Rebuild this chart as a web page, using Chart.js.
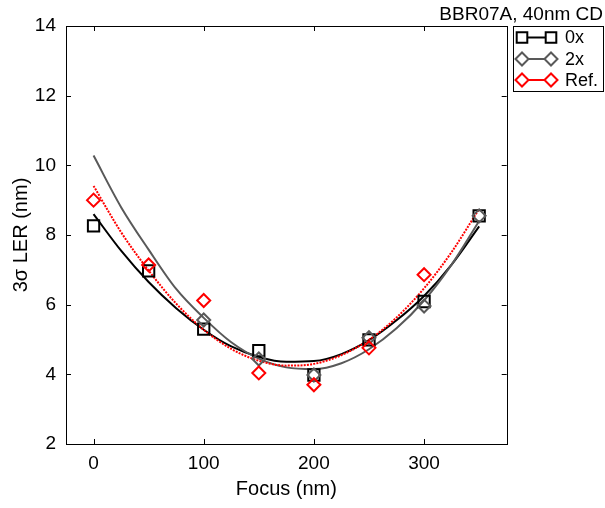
<!DOCTYPE html>
<html>
<head>
<meta charset="utf-8">
<script src="https://cdn.jsdelivr.net/npm/chart.js@4/dist/chart.umd.min.js"></script>
<style>
html,body{margin:0;padding:0;background:#fff;}
canvas{display:block;}
</style>
</head>
<body>
<canvas id="c" width="605" height="508"></canvas>
<script>
// ---- data ----
const focus = [0, 50, 100, 150, 200, 250, 300, 350];
const ler0x = [8.26, 6.97, 5.30, 4.68, 3.98, 4.99, 6.09, 8.55];
const ler2x = [null, null, 5.56, 4.44, 3.98, 5.05, 5.96, 8.55];
const lerRef = [9.00, 7.14, 6.12, 4.04, 3.70, 4.76, 6.86, null];

const fitFocus = [0, 25, 50, 75, 100, 125, 150, 175, 200, 225, 250, 275, 300, 325, 350];
const fit0x  = [8.60, 7.55, 6.65, 5.90, 5.28, 4.80, 4.50, 4.36, 4.38, 4.58, 4.98, 5.55, 6.25, 7.15, 8.25];
const fit2x  = [10.28, 8.80, 7.58, 6.45, 5.62, 4.92, 4.45, 4.20, 4.15, 4.32, 4.72, 5.32, 6.12, 7.15, 8.40];
const fitRef = [9.41, 8.08, 6.98, 6.03, 5.28, 4.73, 4.39, 4.25, 4.30, 4.55, 4.99, 5.63, 6.47, 7.51, 8.75];

const xTicks = [0, 100, 200, 300];
const yTicks = [2, 4, 6, 8, 10, 12, 14];
const seriesNames = ['0x', '2x', 'Ref.'];
const titleText = 'BBR07A, 40nm CD';
const xTitle = 'Focus (nm)';
const yTitle = '3\u03c3 LER (nm)';

const BLACK = '#000000', GRAY = '#595959', RED = '#ff0000';
const FONT = '"Liberation Sans", Arial, Helvetica, sans-serif';

function pts(xs, ys) { return xs.map((x, i) => ({x: x, y: ys[i]})); }

const lineBase = {showLine: true, pointRadius: 0, pointHoverRadius: 0, tension: 0.4, cubicInterpolationMode: 'monotone', borderWidth: 2, fill: false};
const markBase = {showLine: false, borderWidth: 2, backgroundColor: 'rgba(0,0,0,0)'};

const datasets = [
  Object.assign({}, markBase, {label: seriesNames[2], data: pts(focus, lerRef), borderColor: RED, pointStyle: 'rectRot', pointRadius: 6.5, order: 0}),
  Object.assign({}, markBase, {label: seriesNames[1], data: pts(focus, ler2x), borderColor: GRAY, pointStyle: 'rectRot', pointRadius: 6.5, order: 1}),
  Object.assign({}, markBase, {label: seriesNames[0], data: pts(focus, ler0x), borderColor: BLACK, pointStyle: 'rect', pointRadius: 8, order: 2}),
  Object.assign({}, lineBase, {label: 'fitRef', data: pts(fitFocus, fitRef), borderColor: RED, borderDash: [2, 1.2], order: 3}),
  Object.assign({}, lineBase, {label: 'fit2x', data: pts(fitFocus, fit2x), borderColor: GRAY, order: 4}),
  Object.assign({}, lineBase, {label: 'fit0x', data: pts(fitFocus, fit0x), borderColor: BLACK, order: 5})
];

function drawMarker(ctx, style, x, y, r, color) {
  ctx.save();
  ctx.strokeStyle = color; ctx.lineWidth = 2;
  ctx.beginPath();
  if (style === 'rect') {
    const s = r * Math.SQRT1_2;
    ctx.rect(x - s, y - s, 2 * s, 2 * s);
  } else {
    ctx.moveTo(x - r, y); ctx.lineTo(x, y - r); ctx.lineTo(x + r, y); ctx.lineTo(x, y + r); ctx.closePath();
  }
  ctx.fillStyle = '#fff'; ctx.fill();
  ctx.stroke();
  ctx.restore();
}

const framePlugin = {
  id: 'frame',
  afterDatasetsDraw(chart) {
    const ctx = chart.ctx, a = chart.chartArea;
    const xs = chart.scales.x, ys = chart.scales.y;
    ctx.save();
    ctx.strokeStyle = '#000'; ctx.lineWidth = 1;
    ctx.strokeRect(Math.round(a.left) + 0.5, Math.round(a.top) + 0.5, Math.round(a.right - a.left), Math.round(a.bottom - a.top));
    ctx.beginPath();
    const tl = 5;
    xTicks.forEach(v => {
      const px = Math.round(xs.getPixelForValue(v)) + 0.5;
      ctx.moveTo(px, a.bottom); ctx.lineTo(px, a.bottom - tl);
      ctx.moveTo(px, a.top); ctx.lineTo(px, a.top + tl);
    });
    yTicks.forEach(v => {
      const py = Math.round(ys.getPixelForValue(v)) + 0.5;
      ctx.moveTo(a.left, py); ctx.lineTo(a.left + tl, py);
      ctx.moveTo(a.right, py); ctx.lineTo(a.right - tl, py);
    });
    ctx.stroke();
    ctx.restore();
  },
  afterDraw(chart) {
    const ctx = chart.ctx;
    ctx.save();
    // title
    ctx.fillStyle = '#000';
    ctx.font = '19px ' + FONT;
    ctx.textAlign = 'right'; ctx.textBaseline = 'alphabetic';
    ctx.fillText(titleText, 603, 20);
    // legend
    const bx = 513.5, by = 26.5, bw = 90, bh = 65;
    ctx.fillStyle = '#fff';
    ctx.fillRect(bx, by, bw, bh);
    ctx.strokeStyle = '#000'; ctx.lineWidth = 1;
    ctx.strokeRect(bx, by, bw, bh);
    const rows = [
      {name: seriesNames[0], color: BLACK, style: 'rect', r: 7.5, y: 37.5},
      {name: seriesNames[1], color: GRAY, style: 'rectRot', r: 6.5, y: 59},
      {name: seriesNames[2], color: RED, style: 'rectRot', r: 6.5, y: 80}
    ];
    rows.forEach(row => {
      ctx.strokeStyle = row.color; ctx.lineWidth = 2;
      ctx.beginPath(); ctx.moveTo(522, row.y); ctx.lineTo(551, row.y); ctx.stroke();
      drawMarker(ctx, row.style, 522, row.y, row.r, row.color);
      drawMarker(ctx, row.style, 551, row.y, row.r, row.color);
      ctx.fillStyle = '#000';
      ctx.font = '18px ' + FONT;
      ctx.textAlign = 'left'; ctx.textBaseline = 'middle';
      ctx.fillText(row.name, 565, row.y + 1);
    });
    ctx.restore();
  }
};

new Chart(document.getElementById('c'), {
  type: 'scatter',
  data: {datasets: datasets},
  options: {
    responsive: false,
    animation: false,
    devicePixelRatio: 1,
    layout: {padding: {top: 26, right: 98.3, left: 0, bottom: 0}},
    plugins: {legend: {display: false}, tooltip: {enabled: false}, title: {display: false}},
    scales: {
      x: {
        type: 'linear', min: -25, max: 375,
        afterBuildTicks(scale) { scale.ticks = xTicks.map(v => ({value: v})); },
        afterFit(scale) { scale.height = 64; },
        grid: {display: false, drawTicks: false},
        border: {display: false},
        ticks: {color: '#000', font: {family: FONT, size: 19}, padding: 8, maxRotation: 0, callback: v => String(v)},
        title: {display: true, text: xTitle, color: '#000', font: {family: FONT, size: 20}, padding: {top: 2, bottom: 7}}
      },
      y: {
        type: 'linear', min: 2, max: 14,
        afterBuildTicks(scale) { scale.ticks = yTicks.map(v => ({value: v})); },
        afterFit(scale) { scale.width = 66; },
        grid: {display: false, drawTicks: false},
        border: {display: false},
        ticks: {color: '#000', font: {family: FONT, size: 19}, padding: 10, callback: v => String(v)},
        title: {display: true, text: yTitle, color: '#000', font: {family: FONT, size: 20}, padding: {top: 9, bottom: 0}}
      }
    }
  },
  plugins: [framePlugin]
});
</script>
</body>
</html>
